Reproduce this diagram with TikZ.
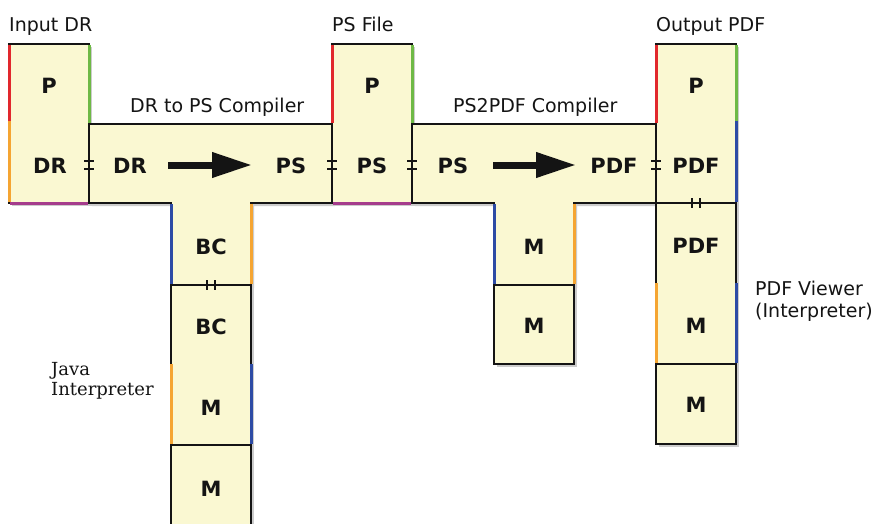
\documentclass[tikz,border=0pt]{standalone}
\usepackage{fontspec}
\setmainfont{DejaVu Sans}
\newfontfamily\javafont{DejaVu Serif}
\usetikzlibrary{arrows.meta}
\definecolor{fillc}{RGB}{250,248,210}
\definecolor{cred}{RGB}{225,40,45}
\definecolor{cgreen}{RGB}{110,185,70}
\definecolor{corange}{RGB}{245,165,50}
\definecolor{cblue}{RGB}{45,75,165}
\definecolor{cpurple}{RGB}{165,60,140}
\definecolor{ink}{RGB}{20,20,20}
\newcommand\tshapes[1]{%
  \path[#1] (9,44) rectangle (89,203);
  \path[#1] (89,124) -- (332,124) -- (332,203) -- (251,203) -- (251,285) -- (171,285) -- (171,203) -- (89,203) -- cycle;
  \path[#1] (171,285) rectangle (251,445);
  \path[#1] (171,445) rectangle (251,530);
  \path[#1] (332,44) rectangle (412,203);
  \path[#1] (412,124) -- (656,124) -- (656,203) -- (574,203) -- (574,285) -- (494,285) -- (494,203) -- (412,203) -- cycle;
  \path[#1] (494,285) rectangle (574,364);
  \path[#1] (656,44) rectangle (736,203);
  \path[#1] (656,203) rectangle (736,364);
  \path[#1] (656,364) rectangle (736,444);
}
\begin{document}
\begin{tikzpicture}[x=1pt,y=-1pt,
  box/.style={fill=fillc, draw=ink, line width=2.3pt},
  shadowbox/.style={fill=black!20, draw=none},
  seg/.style={line width=3pt},
  capt/.style={font=\fontsize{19}{23}\selectfont, inner sep=0pt, text=ink},
  jcapt/.style={font=\javafont\fontsize{18}{22}\selectfont, inner sep=0pt, text=ink},
  lab/.style={font=\fontsize{21}{24}\selectfont\bfseries, inner sep=0pt, text=ink},
  tickmark/.style={line width=2pt, draw=ink},
  bigarrow/.style={line width=7pt, draw=ink, -{Triangle[length=40pt,width=24pt]}}
]
\useasboundingbox (0,0) rectangle (880,524);
\clip (0,0) rectangle (880,524);
\fill[white] (0,0) rectangle (880,524);
% shadows
\begin{scope}[shift={(3,3)}]
  \tshapes{shadowbox}
\end{scope}
% shapes
\tshapes{box}
% coloured edges
% Input DR
\draw[seg,cred] (9,45) -- (9,121);
\draw[seg,corange] (9,121) -- (9,202);
\draw[seg,cgreen] (89,45) -- (89,123);
\draw[seg,cpurple] (10,203) -- (88,203);
% DR to PS compiler
\draw[seg,cblue] (171,204) -- (171,284);
\draw[seg,corange] (251,204) -- (251,284);
% Java interpreter
\draw[seg,corange] (171,364) -- (171,444);
\draw[seg,cblue] (251,364) -- (251,444);
% PS file
\draw[seg,cred] (332,45) -- (332,123);
\draw[seg,cgreen] (412,45) -- (412,123);
\draw[seg,cpurple] (333,203) -- (411,203);
% PS2PDF compiler
\draw[seg,cblue] (494,204) -- (494,284);
\draw[seg,corange] (574,204) -- (574,284);
% Output PDF
\draw[seg,cred] (656,45) -- (656,123);
\draw[seg,cgreen] (736,45) -- (736,121);
\draw[seg,cblue] (736,121) -- (736,202);
% PDF viewer
\draw[seg,corange] (656,283) -- (656,363);
\draw[seg,cblue] (736,283) -- (736,363);

% captions
\node[capt, anchor=base west] (cin) at (9,32) {Input DR};
\node[capt, anchor=base west] (cps) at (332,32) {PS File};
\node[capt, anchor=base west] (cout) at (656,32) {Output PDF};
\node[capt, anchor=base west] (ccomp1) at (130,113) {DR to PS Compiler};
\node[capt, anchor=base west] (ccomp2) at (453,113) {PS2PDF Compiler};
\node[capt, anchor=base west] (cview1) at (755,295) {PDF Viewer};
\node[capt, anchor=base west] (cview2) at (755,317) {(Interpreter)};
\node[jcapt, anchor=base west] (cjava1) at (51,375) {Java};
\node[jcapt, anchor=base west] (cjava2) at (51,395) {Interpreter};

% labels
\node[lab] (inP) at (49,86) {P};
\node[lab] (inDR) at (50,166) {DR};
\node[lab] (c1DR) at (130,166) {DR};
\node[lab] (c1PS) at (291,166) {PS};
\node[lab] (j1) at (211,247) {BC};
\node[lab] (j2) at (211,327) {BC};
\node[lab] (j3) at (211,408) {M};
\node[lab] (j4) at (211,489) {M};
\node[lab] (psP) at (372,86) {P};
\node[lab] (psPS) at (372,166) {PS};
\node[lab] (c2PS) at (453,166) {PS};
\node[lab] (c2PDF) at (614,166) {PDF};
\node[lab] (m1) at (534,247) {M};
\node[lab] (m2) at (534,326) {M};
\node[lab] (outP) at (696,86) {P};
\node[lab] (outPDF) at (696,166) {PDF};
\node[lab] (v1) at (696,246) {PDF};
\node[lab] (v2) at (696,326) {M};
\node[lab] (v3) at (696,405) {M};

% arrows
\coordinate (a1s) at (168,165);
\coordinate (a1e) at (252,165);
\coordinate (a2s) at (493,165);
\coordinate (a2e) at (576,165);
\draw[bigarrow] (a1s) -- (a1e);
\draw[bigarrow] (a2s) -- (a2e);

% connection ticks (vertical boundaries)
\foreach \x in {89,332,412,656} {
  \draw[tickmark] (\x-5,161) -- (\x+5,161);
  \draw[tickmark] (\x-5,169) -- (\x+5,169);
}
% connection ticks (horizontal boundaries)
\foreach \x/\y in {211/285,696/203} {
  \draw[tickmark] (\x-4,\y-5) -- (\x-4,\y+5);
  \draw[tickmark] (\x+4,\y-5) -- (\x+4,\y+5);
}
\end{tikzpicture}
\end{document}
